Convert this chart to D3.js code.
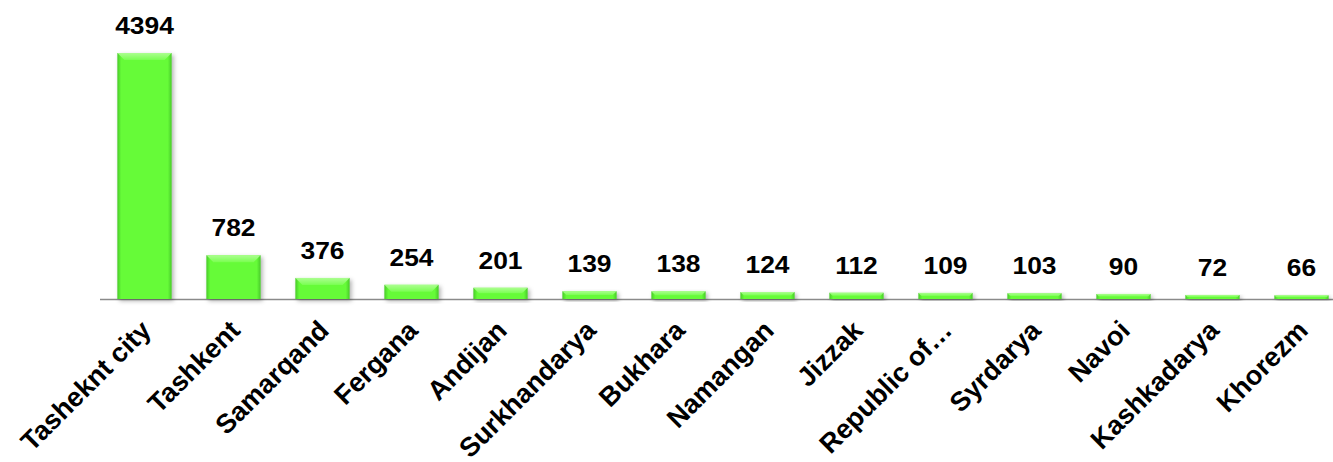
<!DOCTYPE html>
<meta charset="utf-8">
<head>
  <title>Regions bar chart</title>
</head>
<style>
  body { margin: 0; background: #fff; }
  .value { font: bold 24px "Liberation Sans", Arial, sans-serif; fill: #000; }
  .cat { font: bold 27px "Liberation Sans", Arial, sans-serif; fill: #000; }
</style>
<body>
<script src="https://cdn.jsdelivr.net/npm/d3@7"></script>
<script>
// data
var regions = ["Tasheknt city", "Tashkent", "Samarqand", "Fergana", "Andijan", "Surkhandarya",
               "Bukhara", "Namangan", "Jizzak", "Republic of\u2026", "Syrdarya", "Navoi",
               "Kashkadarya", "Khorezm"];
var counts = [4394, 782, 376, 254, 201, 139, 138, 124, 112, 109, 103, 90, 72, 66];

var W = 1333, H = 462;
var baseY = 299, topY = 53;

var svg = d3.select("body").append("svg")
    .attr("width", W)
    .attr("height", H);

var defs = svg.append("defs");

// side shading of the bars
var grad = defs.append("linearGradient").attr("id", "barSide")
    .attr("x1", 0).attr("x2", 1).attr("y1", 0).attr("y2", 0);
grad.append("stop").attr("offset", "0%").attr("stop-color", "#48c928");
grad.append("stop").attr("offset", "7%").attr("stop-color", "#66fb38");
grad.append("stop").attr("offset", "93%").attr("stop-color", "#66fb38");
grad.append("stop").attr("offset", "100%").attr("stop-color", "#48c928");

var topGrad = defs.append("linearGradient").attr("id", "barTop")
    .attr("x1", 0).attr("x2", 0).attr("y1", 0).attr("y2", 1);
topGrad.append("stop").attr("offset", "0%").attr("stop-color", "#b8ffa0");
topGrad.append("stop").attr("offset", "100%").attr("stop-color", "#7dff55");

var shadow = defs.append("filter").attr("id", "shadow")
    .attr("x", "-20%").attr("y", "-20%").attr("width", "150%").attr("height", "150%");
shadow.append("feDropShadow").attr("dx", 2).attr("dy", 2).attr("stdDeviation", 2)
    .attr("flood-color", "#000").attr("flood-opacity", 0.3);

var x = d3.scaleBand()
    .domain(regions)
    .range([100, 100 + 89 * 14])
    .paddingInner(0.39)
    .paddingOuter(0.195);

var y = d3.scaleLinear()
    .domain([0, 4394])
    .range([baseY, topY]);

// axis line
svg.append("line")
    .attr("x1", 100).attr("x2", W)
    .attr("y1", baseY + 0.5).attr("y2", baseY + 0.5)
    .attr("stroke", "#8a8a8a")
    .attr("stroke-width", 1.5);

var bars = svg.selectAll(".bar")
    .data(counts)
    .enter().append("g")
    .attr("class", "bar")
    .attr("filter", "url(#shadow)");

bars.append("rect")
    .attr("x", function(d, i) { return x(regions[i]); })
    .attr("y", function(d) { return y(d); })
    .attr("width", x.bandwidth())
    .attr("height", function(d) { return baseY - y(d); })
    .attr("fill", "url(#barSide)");

// bevel highlight at the top of each bar
bars.append("path")
    .attr("d", function(d, i) {
      var x0 = x(regions[i]), w = x.bandwidth(), t = y(d);
      var h = Math.min(7, (baseY - t) / 2);
      return "M" + x0 + "," + t + "L" + (x0 + w) + "," + t +
             "L" + (x0 + w - h) + "," + (t + h) + "L" + (x0 + h) + "," + (t + h) + "Z";
    })
    .attr("fill", "url(#barTop)")
    .attr("opacity", 0.85);

// value labels, slightly widened like the original
svg.selectAll(".value")
    .data(counts)
    .enter().append("text")
    .attr("class", "value")
    .attr("text-anchor", "middle")
    .attr("transform", function(d, i) {
      return "translate(" + (x(regions[i]) + x.bandwidth() / 2) + "," + (y(d) - 19) + ") scale(1.1,1)";
    })
    .text(function(d) { return d; });

// category labels, rotated
svg.selectAll(".cat")
    .data(regions)
    .enter().append("text")
    .attr("class", "cat")
    .attr("text-anchor", "end")
    .attr("transform", function(d) {
      return "translate(" + (x(d) + x.bandwidth() / 2 + 8) + "," + (baseY + 33) + ") rotate(-45)";
    })
    .text(function(d) { return d; });
</script>
</body>
